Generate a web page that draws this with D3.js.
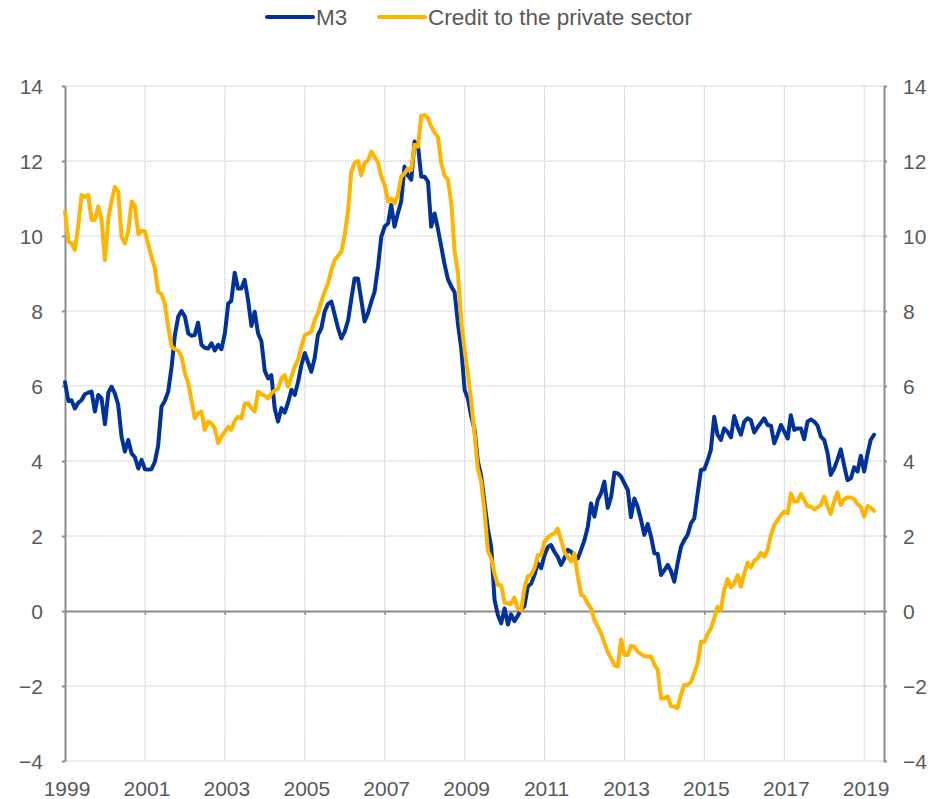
<!DOCTYPE html>
<html>
<head>
<meta charset="utf-8">
<script src="https://cdn.jsdelivr.net/npm/d3@7"></script>
<style>
  html, body { margin: 0; padding: 0; background: #fff; }
  svg { display: block; }
  text { font-family: "Liberation Sans", Arial, sans-serif; fill: #595959; }
</style>
</head>
<body>
<svg id="chart" width="931" height="799"></svg>
<script>
// Monthly annual growth rates (%), January 1999 to April 2019
const startYear = 1999;
const m3Values = [
  // 1999
  6.1, 5.6, 5.62, 5.4, 5.55, 5.62, 5.78, 5.82, 5.85, 5.32, 5.76, 5.67,
  // 2000
  4.98, 5.82, 5.98, 5.8, 5.5, 4.65, 4.25, 4.56, 4.2, 4.1, 3.8, 4.03,
  // 2001
  3.78, 3.77, 3.78, 3.98, 4.4, 5.45, 5.6, 5.85, 6.5, 7.35, 7.85, 8.0,
  // 2002
  7.85, 7.4, 7.34, 7.36, 7.69, 7.1, 7.02, 7.0, 7.14, 6.95, 7.1, 6.98,
  // 2003
  7.4, 8.2, 8.27, 9.02, 8.6, 8.6, 8.83, 8.3, 7.6, 7.98, 7.4, 7.2,
  // 2004
  6.4, 6.2, 6.29, 5.4, 5.05, 5.41, 5.29, 5.56, 5.9, 5.76, 6.12, 6.56,
  // 2005
  6.88, 6.62, 6.38, 6.74, 7.36, 7.54, 7.98, 8.19, 8.25, 7.9, 7.54, 7.27,
  // 2006
  7.45, 7.76, 8.3, 8.87, 8.87, 8.3, 7.72, 7.94, 8.25, 8.52, 9.18, 9.98,
  // 2007
  10.25, 10.34, 10.83, 10.25, 10.6, 10.92, 11.85, 11.62, 11.5, 12.52, 12.43, 11.58,
  // 2008
  11.58, 11.45, 10.25, 10.6, 10.2, 9.72, 9.25, 8.85, 8.65, 8.5, 7.65, 7.0,
  // 2009
  5.89, 5.65, 5.2, 4.85, 4.0, 3.6, 2.9, 2.2, 1.7, 0.3, -0.11, -0.33,
  // 2010
  0.07, -0.36, -0.09, -0.27, -0.13, 0.04, 0.13, 0.65, 0.73, 0.96, 1.27, 1.14,
  // 2011
  1.49, 1.71, 1.76, 1.58, 1.45, 1.23, 1.4, 1.63, 1.58, 1.45, 1.4, 1.63,
  // 2012
  1.89, 2.25, 2.87, 2.52, 2.96, 3.14, 3.45, 2.75, 3.05, 3.69, 3.67, 3.58,
  // 2013
  3.4, 3.22, 2.5, 3.0, 2.78, 2.43, 2.03, 2.32, 1.98, 1.54, 1.52, 0.96,
  // 2014
  1.09, 1.23, 1.07, 0.78, 1.27, 1.71, 1.89, 2.03, 2.34, 2.47, 3.14, 3.76,
  // 2015
  3.78, 4.03, 4.29, 5.18, 4.7, 4.56, 4.87, 4.78, 4.63, 5.2, 4.91, 4.7,
  // 2016
  5.05, 5.14, 5.09, 4.76, 4.9, 5.02, 5.14, 4.96, 4.94, 4.47, 4.7, 4.96,
  // 2017
  4.78, 4.6, 5.22, 4.83, 4.87, 4.87, 4.58, 5.05, 5.11, 5.05, 4.94, 4.65,
  // 2018
  4.56, 4.2, 3.63, 3.8, 4.03, 4.31, 3.89, 3.49, 3.54, 3.83, 3.72, 4.14,
  // 2019
  3.72, 4.2, 4.56, 4.7
];
const creditValues = [
  // 1999
  10.65, 9.85, 9.8, 9.63, 10.25, 11.09, 11.05, 11.09, 10.43, 10.43, 10.79, 10.43,
  // 2000
  9.36, 10.47, 10.92, 11.31, 11.18, 9.98, 9.8, 10.12, 10.92, 10.8, 10.05, 10.14,
  // 2001
  10.12, 9.76, 9.45, 9.14, 8.51, 8.45, 8.2, 7.58, 7.05, 6.98, 6.94, 6.78,
  // 2002
  6.34, 6.07, 5.63, 5.14, 5.27, 5.32, 4.83, 5.05, 5.0, 4.87, 4.47, 4.65,
  // 2003
  4.78, 4.92, 4.83, 5.07, 5.18, 5.14, 5.52, 5.54, 5.41, 5.32, 5.85, 5.78,
  // 2004
  5.74, 5.67, 5.8, 5.88, 5.92, 6.2, 6.29, 5.98, 6.25, 6.52, 6.7, 7.05,
  // 2005
  7.36, 7.4, 7.45, 7.76, 7.94, 8.25, 8.52, 8.74, 9.09, 9.36, 9.47, 9.58,
  // 2006
  10.03, 10.69, 11.7, 11.95, 12.0, 11.62, 11.94, 12.02, 12.25, 12.11, 11.96, 11.58,
  // 2007
  11.36, 10.92, 11.0, 10.87, 11.09, 11.58, 11.67, 11.8, 11.76, 12.43, 12.38, 13.2,
  // 2008
  13.23, 13.14, 12.92, 12.76, 12.65, 11.94, 11.62, 11.5, 10.87, 9.6, 9.0, 7.7,
  // 2009
  6.95, 6.3, 5.6, 4.74, 3.8, 3.45, 2.69, 1.6, 1.4, 1.0, 0.69, 0.69,
  // 2010
  0.22, 0.2, 0.18, 0.36, 0.07, 0.01, 0.6, 0.93, 0.96, 1.14, 1.49, 1.49,
  // 2011
  1.85, 1.96, 2.03, 2.07, 2.2, 1.89, 1.58, 1.45, 1.32, 1.54, 0.92, 0.43,
  // 2012
  0.38, 0.19, 0.07, -0.24, -0.41, -0.59, -0.85, -1.1, -1.26, -1.45, -1.48, -0.76,
  // 2013
  -1.17, -1.17, -0.93, -0.96, -1.08, -1.15, -1.2, -1.21, -1.21, -1.43, -1.57, -2.33,
  // 2014
  -2.33, -2.28, -2.53, -2.55, -2.59, -2.24, -1.97, -1.97, -1.89, -1.65, -1.39, -0.82,
  // 2015
  -0.82, -0.6, -0.47, -0.2, 0.11, 0.03, 0.56, 0.85, 0.63, 0.74, 0.96, 0.65,
  // 2016
  1.0, 1.29, 1.16, 1.34, 1.4, 1.55, 1.45, 1.63, 2.03, 2.29, 2.43, 2.56,
  // 2017
  2.65, 2.61, 3.14, 2.92, 2.92, 3.12, 2.96, 2.8, 2.78, 2.71, 2.76, 2.83,
  // 2018
  3.05, 2.78, 2.59, 2.92, 3.16, 2.83, 2.98, 3.03, 3.03, 2.98, 2.85, 2.78,
  // 2019
  2.52, 2.8, 2.76, 2.67
];
const yTicks = [-4, -2, 0, 2, 4, 6, 8, 10, 12, 14];
const xTickYears = [1999, 2001, 2003, 2005, 2007, 2009, 2011, 2013, 2015, 2017, 2019];
const seriesNames = ["M3", "Credit to the private sector"];
const seriesColors = ["#003299", "#FFB400"];

(function () {
  const svg = d3.select("#chart");
  const pL = 65, pR = 884, pT = 86, pB = 761;

  const x = d3.scaleTime()
    .domain([new Date(1999, 0, 1), new Date(2019, 6, 1)])
    .range([pL, pR]);
  const y = d3.scaleLinear().domain([-4, 14]).range([pB, pT]);

  const dateOf = i => new Date(startYear + Math.floor(i / 12), i % 12, 1);
  const m3 = m3Values.map((v, i) => ({ date: dateOf(i), value: v }));
  const credit = creditValues.map((v, i) => ({ date: dateOf(i), value: v }));

  // Horizontal gridlines (dotted)
  svg.append("g").selectAll("line")
    .data(yTicks.filter(t => t !== 0))
    .join("line")
    .attr("x1", pL).attr("x2", pR)
    .attr("y1", d => y(d)).attr("y2", d => y(d))
    .attr("stroke", "#c4c4c4").attr("stroke-width", 1)
    .attr("stroke-dasharray", "1.5,1");

  // Vertical gridlines (dotted)
  svg.append("g").selectAll("line")
    .data(xTickYears.filter(yr => yr !== 1999))
    .join("line")
    .attr("x1", d => x(new Date(d, 0, 1))).attr("x2", d => x(new Date(d, 0, 1)))
    .attr("y1", pT).attr("y2", pB)
    .attr("stroke", "#c4c4c4").attr("stroke-width", 1)
    .attr("stroke-dasharray", "1.5,1");

  // Left and right axes
  const leftAxis = svg.append("g")
    .attr("transform", `translate(${pL},0)`)
    .call(d3.axisLeft(y).tickValues(yTicks).tickSize(3).tickSizeOuter(0).tickPadding(19).tickFormat(d3.format("d")));
  const rightAxis = svg.append("g")
    .attr("transform", `translate(${pR},0)`)
    .call(d3.axisRight(y).tickValues(yTicks).tickSize(3).tickSizeOuter(0).tickPadding(16).tickFormat(d3.format("d")));

  [leftAxis, rightAxis].forEach(g => {
    g.select(".domain").attr("stroke", "#8c8c8c").attr("stroke-width", 2);
    g.selectAll(".tick line").attr("stroke", "#8c8c8c").attr("stroke-width", 2);
    g.selectAll(".tick text")
      .attr("font-size", 21)
      .attr("font-family", "Liberation Sans, Arial, sans-serif")
      .attr("fill", "#595959")
      .attr("dy", "0.36em");
  });

  // Zero line with ticks downward
  const zeroAxis = svg.append("g")
    .attr("transform", `translate(0,${y(0)})`)
    .call(d3.axisBottom(x)
      .tickValues(xTickYears.map(yr => new Date(yr, 0, 1)))
      .tickSize(4).tickSizeOuter(0).tickFormat(""));
  zeroAxis.select(".domain").attr("stroke", "#8c8c8c").attr("stroke-width", 2);
  zeroAxis.selectAll(".tick line").attr("stroke", "#8c8c8c").attr("stroke-width", 1.5);

  // Year labels at the bottom
  svg.append("g").selectAll("text")
    .data(xTickYears)
    .join("text")
    .attr("x", d => x(new Date(d, 0, 1)) + 2)
    .attr("y", 796)
    .attr("text-anchor", "middle")
    .attr("font-size", 21)
    .text(d => d);

  // Lines
  const line = d3.line().x(d => x(d.date)).y(d => y(d.value));
  svg.append("path").datum(m3)
    .attr("fill", "none").attr("stroke", seriesColors[0]).attr("stroke-width", 4)
    .attr("stroke-linejoin", "round").attr("stroke-linecap", "round")
    .attr("d", line);
  svg.append("path").datum(credit)
    .attr("fill", "none").attr("stroke", seriesColors[1]).attr("stroke-width", 4)
    .attr("stroke-linejoin", "round").attr("stroke-linecap", "round")
    .attr("d", line);

  // Legend
  const legendItems = [
    { name: seriesNames[0], color: seriesColors[0], x0: 267 },
    { name: seriesNames[1], color: seriesColors[1], x0: 379 }
  ];
  const lg = svg.append("g");
  legendItems.forEach(it => {
    lg.append("line")
      .attr("x1", it.x0).attr("x2", it.x0 + 46)
      .attr("y1", 17).attr("y2", 17)
      .attr("stroke", it.color).attr("stroke-width", 4)
      .attr("stroke-linecap", "round");
    lg.append("text")
      .attr("x", it.x0 + 49).attr("y", 25)
      .attr("font-size", 22.5)
      .text(it.name);
  });
})();
</script>
</body>
</html>
